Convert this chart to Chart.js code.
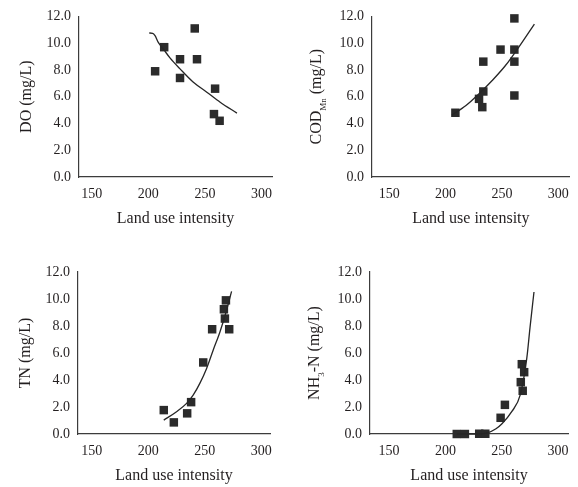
<!DOCTYPE html>
<html>
<head>
<meta charset="utf-8">
<script src="https://cdn.jsdelivr.net/npm/chart.js@4.4.1/dist/chart.umd.min.js"></script>
<style>
  html, body { margin: 0; padding: 0; background: #fff; }
  #wrap { position: relative; width: 578px; height: 487px; }
  canvas { position: absolute; }
</style>
</head>
<body>
<div id="wrap">
  <canvas id="doChart" width="289" height="243" style="left:0;top:0"></canvas>
  <canvas id="codChart" width="289" height="243" style="left:289px;top:0"></canvas>
  <canvas id="tnChart" width="289" height="244" style="left:0;top:243px"></canvas>
  <canvas id="nhChart" width="289" height="244" style="left:289px;top:243px"></canvas>
</div>
<script>
// Tick labels
const xTickValues = [150, 200, 250, 300];
const yTickValues = [0, 2, 4, 6, 8, 10, 12];

// DO
const doX = [206, 214, 228, 228, 241, 243, 259, 258, 263];
const doY = [7.9, 9.7, 8.8, 7.4, 11.1, 8.8, 6.6, 4.7, 4.2];
const doTrendX = [200.8, 203.8, 205.9, 208.8, 213.2, 219.1, 228.0, 239.8, 251.7, 263.5, 278.3];
const doTrendY = [10.76, 10.74, 10.56, 10.06, 9.57, 8.90, 8.08, 7.08, 6.34, 5.59, 4.77];

// COD Mn
const codX = [208.7, 229.7, 232.6, 233.5, 233.5, 248.8, 261.1, 261.1, 261.1, 261.1];
const codY = [4.8, 5.84, 5.22, 6.39, 8.62, 9.52, 11.85, 9.52, 8.62, 6.09];
const codTrendX = [205.5, 218.1, 229.7, 241.4, 253.2, 264.9, 278.9];
const codTrendY = [4.62, 5.34, 6.22, 7.21, 8.33, 9.69, 11.43];

// TN
const tnX = [213.8, 222.7, 234.5, 238.0, 248.7, 256.6, 267.0, 268.8, 267.9, 271.7];
const tnY = [1.77, 0.86, 1.53, 2.36, 5.30, 7.76, 9.24, 9.90, 8.55, 7.76];
const tnTrendX = [213.8, 225.1, 234.0, 239.8, 245.7, 251.7, 257.5, 263.5, 268.8, 273.8];
const tnTrendY = [1.03, 1.65, 2.27, 2.88, 3.75, 4.86, 6.21, 7.56, 9.0, 10.57];

// NH3-N
const nhX = [210.1, 217.3, 230.0, 235.4, 249.0, 252.8, 267.8, 269.9, 266.9, 268.6];
const nhY = [0.0, 0.0, 0.02, 0.02, 1.2, 2.16, 5.17, 4.58, 3.84, 3.2];
const nhTrendX = [210, 225, 236.6, 244.9, 250.2, 259.0, 266.4, 272.2, 275.1, 278.6];
const nhTrendY = [0.0, 0.0, 0.07, 0.39, 0.76, 1.67, 2.9, 5.6, 7.9, 10.52];

const textColor = "#231f20";
const markColor = "#2b2b2b";
const lineColor = "#262626";
const axisColor = "#3c3c3c";
const family = '"Liberation Serif", "Times New Roman", serif';

function toPoints(xs, ys) {
  return xs.map((x, i) => ({ x: x, y: ys[i] }));
}

// axis titles drawn by hand so the subscripts work
const sideTitles = {
  id: "sideTitles",
  afterDraw(chart, args, opts) {
    const { ctx, chartArea } = chart;
    ctx.save();
    ctx.fillStyle = textColor;
    ctx.font = "16px " + family;
    ctx.textAlign = "center";
    ctx.textBaseline = "alphabetic";
    ctx.fillText("Land use intensity", (chartArea.left + chartArea.right) / 2, chartArea.bottom + 46);

    const fontFor = (p) => (p.sub ? "9px " : "16px ") + family;
    let total = 0;
    opts.yTitle.forEach((p) => {
      ctx.font = fontFor(p);
      total += ctx.measureText(p.text).width;
    });
    ctx.translate(opts.baseline, (chartArea.top + chartArea.bottom) / 2);
    ctx.rotate(-Math.PI / 2);
    ctx.textAlign = "left";
    let pos = -total / 2;
    opts.yTitle.forEach((p) => {
      ctx.font = fontFor(p);
      ctx.fillText(p.text, pos, p.sub ? 5 : 0);
      pos += ctx.measureText(p.text).width;
    });
    ctx.restore();
  },
};

function createChart(id, cfg) {
  new Chart(document.getElementById(id), {
    type: "scatter",
    data: {
      datasets: [
        {
          data: toPoints(cfg.trendX, cfg.trendY),
          showLine: true,
          pointRadius: 0,
          borderColor: lineColor,
          borderWidth: 1.3,
          cubicInterpolationMode: "monotone",
          order: 0,
          clip: false,
        },
        {
          data: toPoints(cfg.x, cfg.y),
          pointStyle: "rect",
          pointRadius: 6,
          backgroundColor: markColor,
          borderColor: markColor,
          borderWidth: 0,
          order: 1,
          clip: false,
        },
      ],
    },
    options: {
      responsive: false,
      animation: false,
      events: [],
      layout: { padding: { left: 0, top: cfg.top, right: cfg.right, bottom: 0 } },
      plugins: {
        legend: { display: false },
        tooltip: { enabled: false },
        sideTitles: { yTitle: cfg.yTitle, baseline: cfg.titleX },
      },
      scales: {
        x: {
          type: "linear",
          min: cfg.xMin,
          max: cfg.xMax,
          afterBuildTicks: (s) => { s.ticks = xTickValues.map((v) => ({ value: v })); },
          afterFit: (s) => { s.height = cfg.xHeight; },
          grid: { display: false, drawTicks: false },
          border: { display: true, color: axisColor, width: 1.2 },
          ticks: { padding: 9, color: textColor, font: { family: family, size: 14 }, maxRotation: 0 },
        },
        y: {
          type: "linear",
          min: 0,
          max: 12,
          afterBuildTicks: (s) => { s.ticks = yTickValues.map((v) => ({ value: v })); },
          afterFit: (s) => { s.width = cfg.yWidth; },
          grid: { display: false, drawTicks: false },
          border: { display: true, color: axisColor, width: 1.2 },
          ticks: {
            padding: 8,
            color: textColor,
            font: { family: family, size: 14 },
            callback: (v) => Number(v).toFixed(1),
          },
        },
      },
    },
    plugins: [sideTitles],
  });
}

createChart("doChart", {
  x: doX, y: doY, trendX: doTrendX, trendY: doTrendY,
  yTitle: [{ text: "DO (mg/L)" }],
  top: 16, right: 17, yWidth: 79, xHeight: 66, xMin: 138.7, xMax: 309.3, titleX: 30.5,
});

createChart("codChart", {
  x: codX, y: codY, trendX: codTrendX, trendY: codTrendY,
  yTitle: [{ text: "COD" }, { text: "Mn", sub: true }, { text: " (mg/L)" }],
  top: 16, right: 6, yWidth: 83, xHeight: 66, xMin: 134.6, xMax: 310.3, titleX: 31.5,
});

createChart("tnChart", {
  x: tnX, y: tnY, trendX: tnTrendX, trendY: tnTrendY,
  yTitle: [{ text: "TN (mg/L)" }],
  top: 29, right: 19, yWidth: 78, xHeight: 53, xMin: 137.9, xMax: 307.8, titleX: 29.5,
});

createChart("nhChart", {
  x: nhX, y: nhY, trendX: nhTrendX, trendY: nhTrendY,
  yTitle: [{ text: "NH" }, { text: "3", sub: true }, { text: "-N (mg/L)" }],
  top: 29, right: 8, yWidth: 81, xHeight: 53, xMin: 133.1, xMax: 308.8, titleX: 30,
});
</script>
</body>
</html>
